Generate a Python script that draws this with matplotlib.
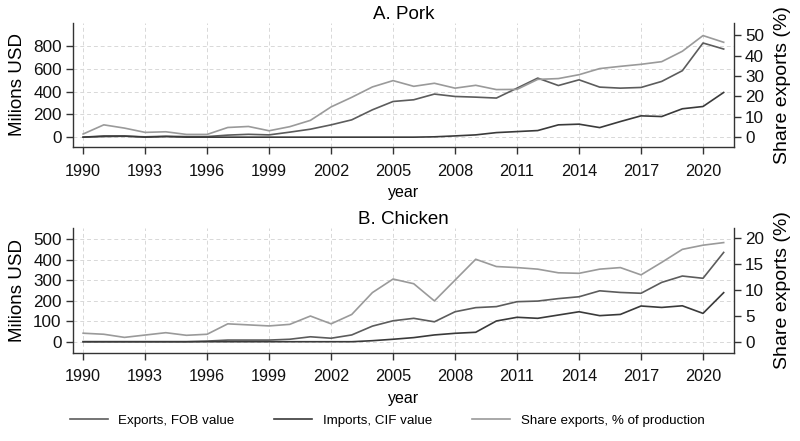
import numpy as np
import matplotlib.pyplot as plt

plt.rcParams['font.family'] = ['Liberation Sans', 'DejaVu Sans']

years = list(range(1990, 2022))

# Pork (millions USD / % of production)
pork_exports = [0, 5, 8, 3, 8, 5, 5, 18, 25, 20, 44, 70, 108, 152, 240, 313,
                328, 378, 357, 351, 343, 430, 518, 453, 503, 439, 430, 436,
                489, 583, 826, 773]
pork_imports = [0, 10, 10, 0, 5, 0, 0, 0, 0, 0, 0, 0, 0, 0, 0, 0,
                0, 3, 11, 20, 40, 49, 58, 108, 114, 84, 137, 187,
                181, 249, 269, 392]
pork_share = [1.5, 6.0, 4.4, 2.3, 2.6, 1.3, 1.3, 4.7, 5.2, 3.1, 5.1, 8.2,
              14.8, 19.5, 24.6, 27.7, 24.9, 26.4, 24.0, 25.4, 23.3, 23.4,
              28.3, 28.7, 30.6, 33.6, 34.7, 35.7, 37.0, 42.1, 49.8, 46.5]

# Chicken
chicken_exports = [0, 0, 0, 0, 0, 0, 3, 8, 8, 8, 12, 24, 17, 33, 76, 102,
                   114, 97, 146, 166, 171, 195, 198, 210, 219, 248, 240, 236,
                   289, 320, 309, 435]
chicken_imports = [0, 0, 0, 0, 0, 0, 0, 0, 0, 0, 0, 0, 0, 0, 5, 12,
                   20, 33, 41, 46, 101, 119, 114, 130, 146, 127, 133, 174,
                   167, 175, 138, 239]
chicken_share = [1.7, 1.5, 0.9, 1.35, 1.8, 1.3, 1.5, 3.5, 3.3, 3.1, 3.4, 5.0,
                 3.5, 5.3, 9.5, 12.1, 11.2, 7.9, 11.9, 15.9, 14.5, 14.3, 14.0,
                 13.3, 13.2, 14.0, 14.3, 12.9, 15.3, 17.8, 18.6, 19.1]

panels = [
    ("A. Pork", pork_exports, pork_imports, pork_share,
     [0, 200, 400, 600, 800], (-85, 1002), [0, 10, 20, 30, 40, 50], (-4.8, 56)),
    ("B. Chicken", chicken_exports, chicken_imports, chicken_share,
     [0, 100, 200, 300, 400, 500], (-54, 554), [0, 5, 10, 15, 20], (-2.06, 21.9)),
]

c_exp = '#5c5c5c'
c_imp = '#3a3a3a'
c_share = '#9a9a9a'
axis_col = '#333333'

fig = plt.figure(figsize=(8, 4.41), dpi=100)
boxes = [[0.091, 0.667, 0.8265, 0.281], [0.091, 0.200, 0.8265, 0.283]]

handles = None
for box, (title, exp, imp, share, lticks, lylim, rticks, rylim) in zip(boxes, panels):
    ax = fig.add_axes(box)
    ax2 = ax.twinx()
    h1, = ax.plot(years, exp, color=c_exp, lw=1.2)
    h2, = ax.plot(years, imp, color=c_imp, lw=1.2)
    h3, = ax2.plot(years, share, color=c_share, lw=1.2)
    handles = [h1, h2, h3]

    ax.set_xlim(1989.5, 2021.5)
    ax.set_ylim(*lylim)
    ax2.set_ylim(*rylim)
    ax.set_xticks(range(1990, 2021, 3))
    ax.set_yticks(lticks)
    ax2.set_yticks(rticks)

    ax.grid(True, color='#d8d8d8', linestyle=(0, (4, 3)), lw=0.7)
    ax.set_axisbelow(True)

    for a in (ax, ax2):
        a.spines['top'].set_visible(False)
        for s in ('left', 'right', 'bottom'):
            a.spines[s].set_color(axis_col)
            a.spines[s].set_linewidth(1.0)
        a.tick_params(colors=axis_col, labelcolor='#111111', labelsize=12.3,
                      length=5, width=1.0, pad=3)
    ax.tick_params(axis='x', labelsize=11.7, pad=7)
    ax.spines['right'].set_visible(False)
    ax2.spines['left'].set_visible(False)
    ax2.spines['bottom'].set_visible(False)

    ax.set_ylabel("Milions USD", fontsize=13.5, labelpad=5)
    ax2.set_ylabel("Share exports (%)", fontsize=14, labelpad=7)
    ax.set_xlabel("year", fontsize=11.5, labelpad=5)
    ax.set_title(title, fontsize=13.5, pad=3)

fig.legend(handles, ["Exports, FOB value", "Imports, CIF value",
                     "Share exports, % of production"],
           loc='center', bbox_to_anchor=(0.484, 0.046), ncol=3, frameon=False,
           fontsize=9.6, handlelength=2.85, handletextpad=0.8,
           columnspacing=3.0)

fig.savefig("out.png", dpi=100)
